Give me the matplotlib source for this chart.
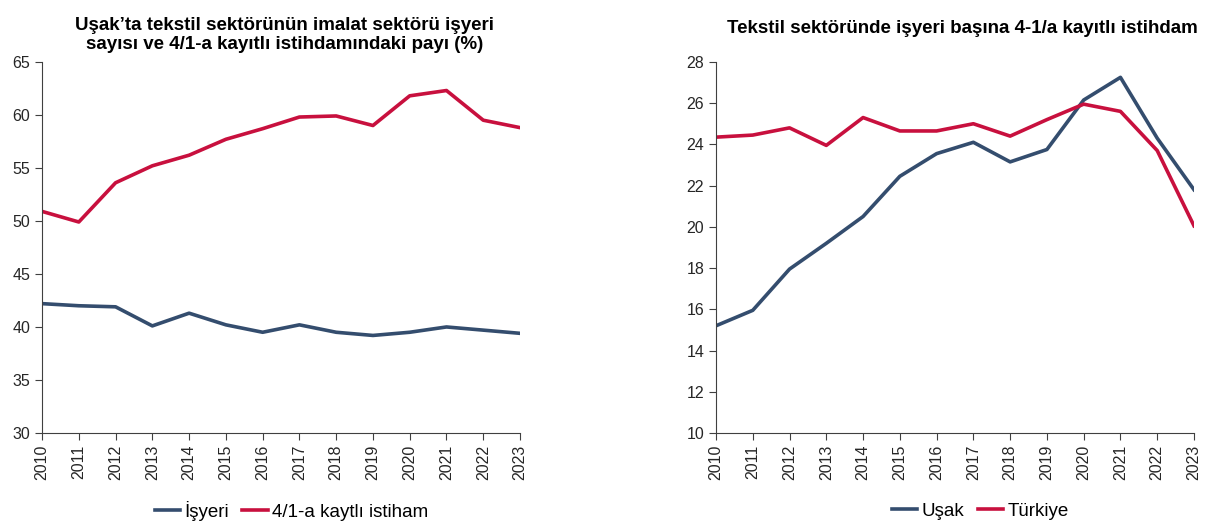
import matplotlib
matplotlib.use('Agg')
import matplotlib.pyplot as plt

matplotlib.rcParams['font.family'] = ['Liberation Sans', 'DejaVu Sans']

years = [str(y) for y in range(2010, 2024)]

# left chart: share of Uşak textile in manufacturing (%)
isyeri = [42.2, 42.0, 41.9, 40.1, 41.3, 40.2, 39.5, 40.2, 39.5, 39.2, 39.5, 40.0, 39.7, 39.4]
istihdam = [50.9, 49.9, 53.6, 55.2, 56.2, 57.7, 58.7, 59.8, 59.9, 59.0, 61.8, 62.3, 59.5, 58.8]

# right chart: 4-1/a employment per workplace
usak = [15.2, 15.95, 17.95, 19.2, 20.5, 22.45, 23.55, 24.1, 23.15, 23.75, 26.15, 27.25, 24.3, 21.8]
turkiye = [24.35, 24.45, 24.8, 23.95, 25.3, 24.65, 24.65, 25.0, 24.4, 25.2, 25.95, 25.6, 23.7, 20.05]

navy = '#344D6E'
red = '#C8103E'

fig = plt.figure(figsize=(12.15, 5.29), dpi=100)
ax1 = fig.add_axes([0.0346, 0.1815, 0.3934, 0.7015])
ax2 = fig.add_axes([0.5893, 0.1815, 0.3934, 0.7015])

x = list(range(len(years)))

ax1.plot(x, isyeri, color=navy, lw=2.6, label='İşyeri')
ax1.plot(x, istihdam, color=red, lw=2.6, label='4/1-a kaytlı istiham')
ax1.set_ylim(30, 65)
ax1.set_yticks(range(30, 66, 5))

ax2.plot(x, usak, color=navy, lw=2.6, label='Uşak')
ax2.plot(x, turkiye, color=red, lw=2.6, label='Türkiye')
ax2.set_ylim(10, 28)
ax2.set_yticks(range(10, 29, 2))

legend_x = {ax1: 0.24, ax2: 0.807}
for ax in (ax1, ax2):
    ax.set_xlim(0, len(years) - 1)
    ax.set_xticks(x)
    ax.set_xticklabels(years, rotation=90)
    ax.spines['right'].set_visible(False)
    ax.spines['top'].set_visible(False)
    ax.spines['left'].set_color('#404040')
    ax.spines['bottom'].set_color('#404040')
    ax.tick_params(axis='both', direction='out', length=5, color='#404040',
                   labelsize=11.5, labelcolor='#262626')
    ax.legend(loc='center', bbox_to_anchor=(legend_x[ax], 0.034), bbox_transform=fig.transFigure,
              ncol=2, frameon=False, fontsize=13.5, handlelength=1.35, handletextpad=0.25,
              columnspacing=0.7, borderpad=0.1)

ax1.set_title('Uşak’ta tekstil sektörünün imalat sektörü işyeri\nsayısı ve 4/1-a kayıtlı istihdamındaki payı (%)',
              fontsize=13.5, fontweight='bold', pad=9, x=0.507)
ax2.set_title('Tekstil sektöründe işyeri başına 4-1/a kayıtlı istihdam',
              fontsize=13.5, fontweight='bold', pad=21, x=0.515)

fig.savefig('out.png', dpi=100)
